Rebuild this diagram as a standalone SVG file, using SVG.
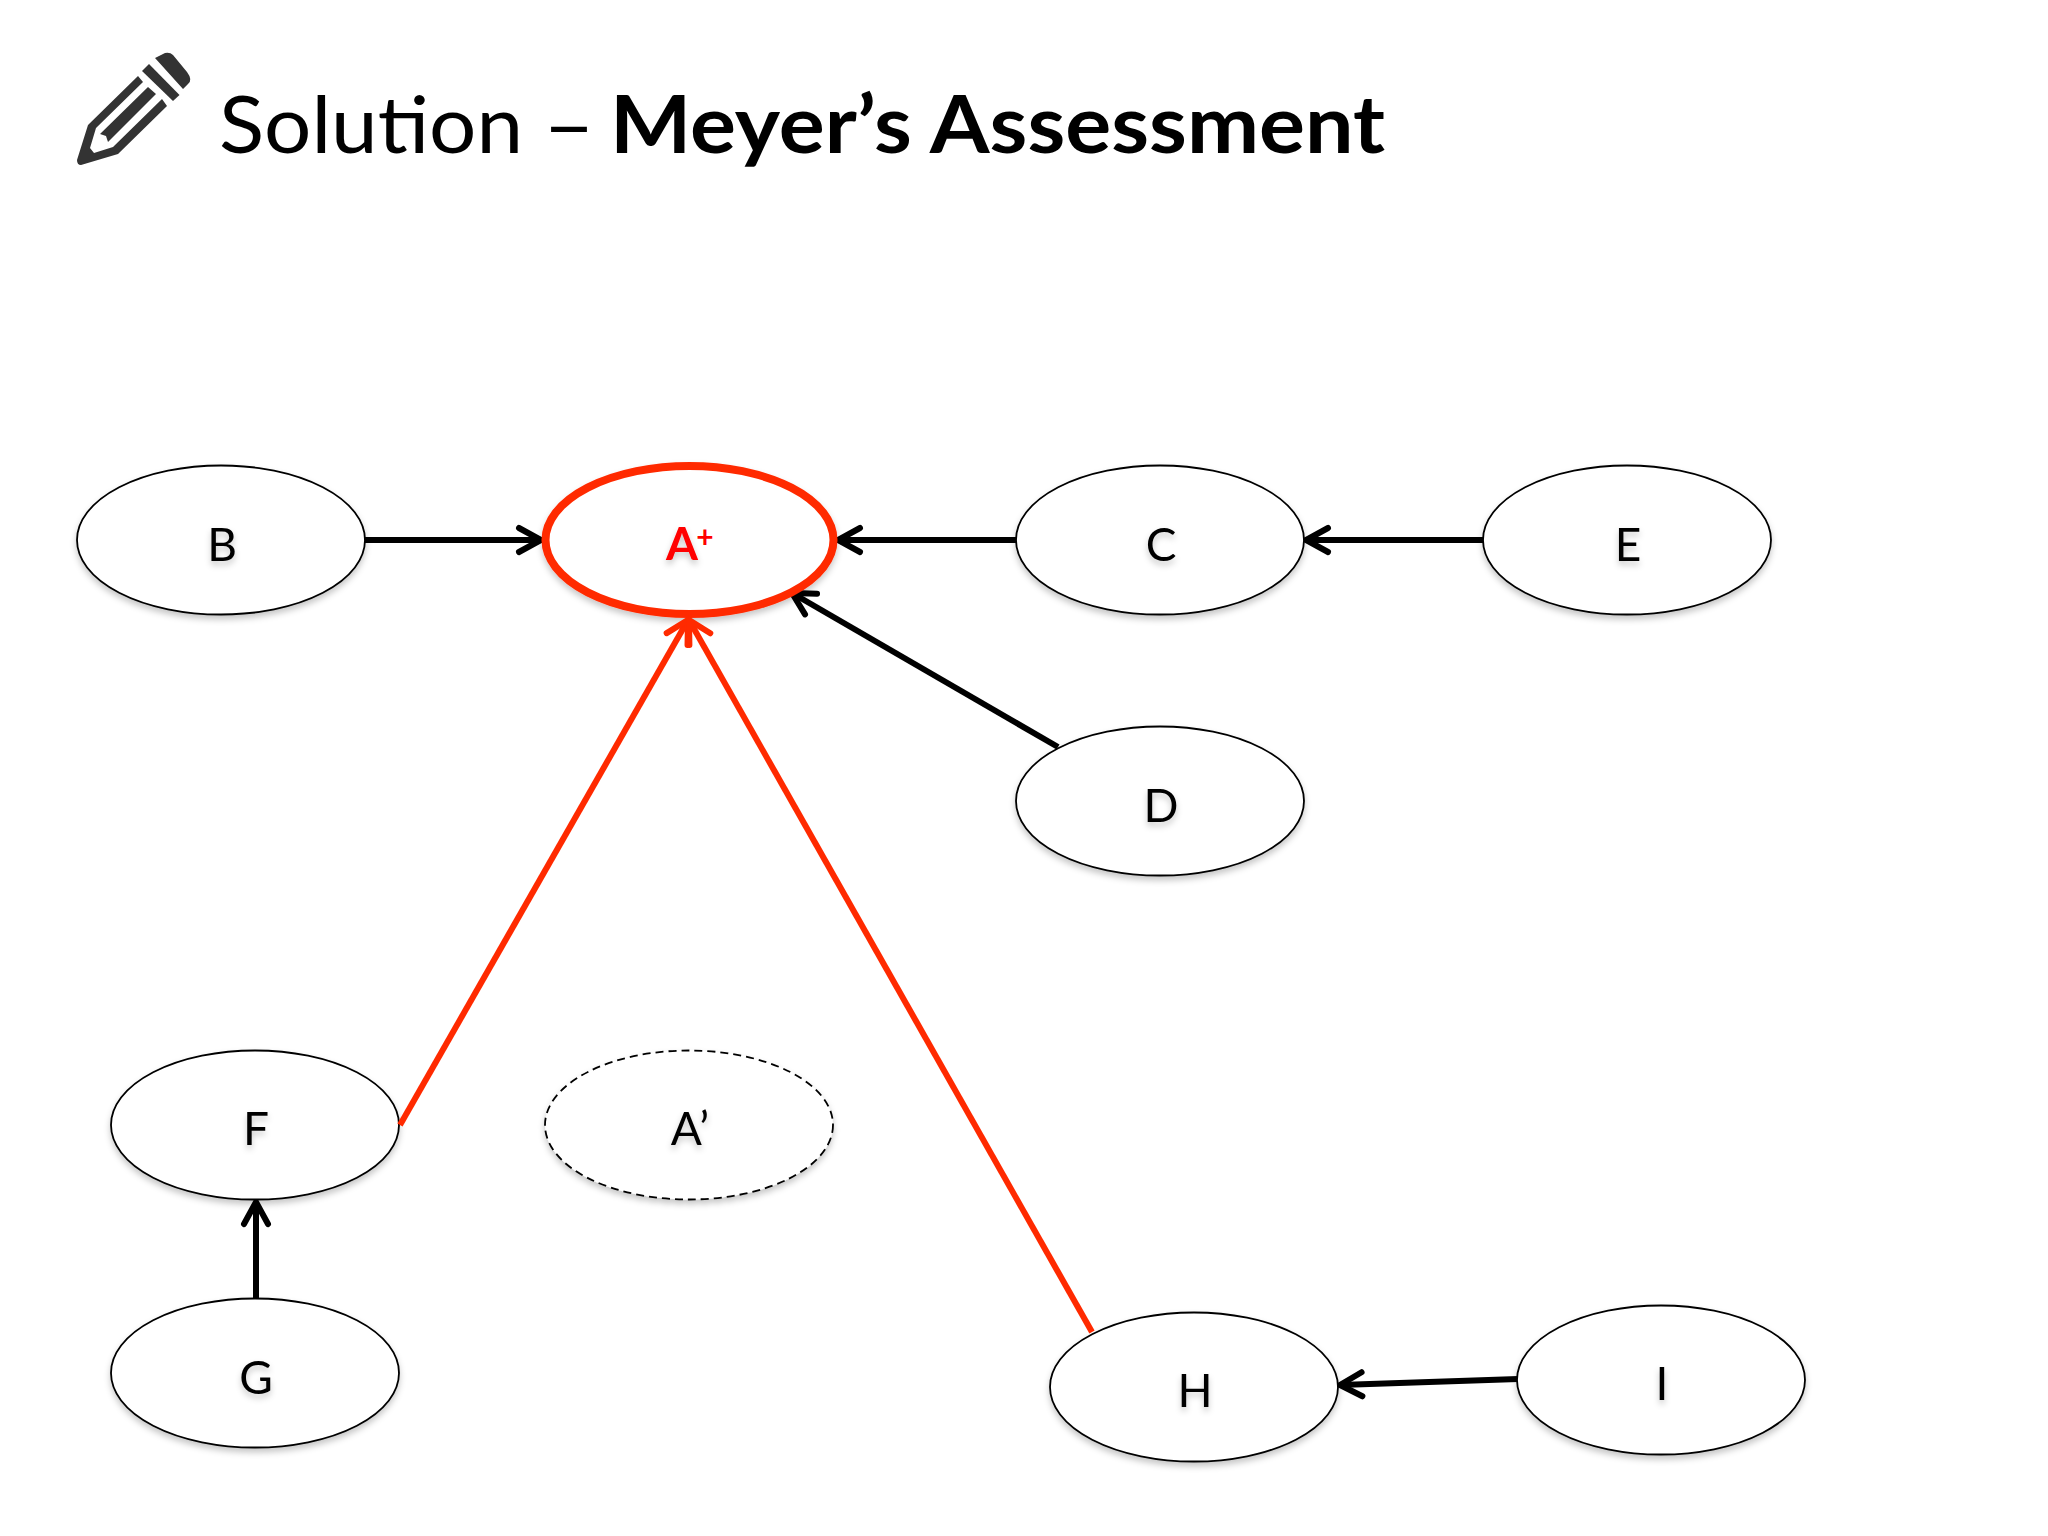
<svg xmlns="http://www.w3.org/2000/svg" width="2048" height="1536" viewBox="0 0 2048 1536">
<defs>
<filter id="sh" x="-20%" y="-20%" width="140%" height="150%"><feDropShadow dx="0" dy="4" stdDeviation="3" flood-color="#000" flood-opacity="0.22"/></filter>
<marker id="ab" markerUnits="userSpaceOnUse" markerWidth="40" markerHeight="40" viewBox="-30 -20 40 40" refX="0" refY="0" orient="auto"><path d="M-22,-12 L0,0 L-22,12" fill="none" stroke="#000" stroke-width="6" stroke-linecap="round"/></marker>
<marker id="ar" markerUnits="userSpaceOnUse" markerWidth="40" markerHeight="40" viewBox="-30 -20 40 40" refX="0" refY="0" orient="auto"><path d="M-22,-12 L0,0 L-22,12" fill="none" stroke="#ff2a00" stroke-width="6" stroke-linecap="round"/></marker>
</defs>
<style>
.n{fill:#fff;stroke:#000;stroke-width:1.8;filter:url(#sh)}
.t{font-family:"Lato","Liberation Sans",sans-serif;font-size:46px;text-anchor:middle;fill:#000;filter:url(#sh)}
.h{font-family:"Lato","Liberation Sans",sans-serif;font-size:80px;fill:#000}
.k{stroke:#000;stroke-width:6;fill:none;marker-end:url(#ab)}
.r{stroke:#ff2a00;stroke-width:6;fill:none;marker-end:url(#ar)}
</style>
<rect width="2048" height="1536" fill="#fff"/>
<g id="pencil" fill="#333">
<path d="M155,58 L165,53 Q170,52 173,55 L187,72 Q193,80 188,84 L183,89 Z"/>
<path d="M149,64 L179.5,95 L173,101 L142,71 Z"/>
<path d="M138,76 L143,82 L96,128 L90,148 L94,153 L113,147 L162,99 L167,106 L118,154 L81,165 Q77,165 77,160 L88,125 Z"/>
<path d="M148,87 L156,94 L108,142 L106,136 L100,134 Z"/>
</g>
<g id="title">
<text class="h" x="219" y="153" textLength="304" lengthAdjust="spacingAndGlyphs">Solution</text>
<text class="h" x="543" y="153" textLength="52" lengthAdjust="spacingAndGlyphs">–</text>
<text class="h" x="610" y="153" font-weight="700" textLength="775" lengthAdjust="spacingAndGlyphs">Meyer’s Assessment</text>
</g>
<g id="connectors">
<line class="k" x1="365" y1="540" x2="541" y2="540"/>
<line class="k" x1="1016" y1="540" x2="838" y2="540"/>
<line class="k" x1="1483" y1="540" x2="1306" y2="540"/>
<line class="k" x1="1058" y1="747" x2="792" y2="593"/>
<line class="k" x1="256" y1="1298" x2="256" y2="1202"/>
<line class="k" x1="1518" y1="1379" x2="1340" y2="1385"/>
</g>
<g id="node-B"><ellipse class="n" cx="221" cy="540" rx="144" ry="74.5"/><text class="t" x="222" y="561">B</text></g>
<g id="node-C"><ellipse class="n" cx="1160" cy="540" rx="144" ry="74.5"/><text class="t" x="1161" y="561">C</text></g>
<g id="node-E"><ellipse class="n" cx="1627" cy="540" rx="144" ry="74.5"/><text class="t" x="1628" y="561">E</text></g>
<g id="node-D"><ellipse class="n" cx="1160" cy="801" rx="144" ry="74.5"/><text class="t" x="1161" y="822">D</text></g>
<g id="node-F"><ellipse class="n" cx="255" cy="1125" rx="144" ry="74.5"/><text class="t" x="256" y="1145">F</text></g>
<g id="node-Aprime"><ellipse cx="689" cy="1125" rx="144" ry="74.5" fill="#fff" stroke="#000" stroke-width="1.8" stroke-dasharray="8 5" filter="url(#sh)"/><text class="t" x="690" y="1145">A’</text></g>
<g id="node-G"><ellipse class="n" cx="255" cy="1373" rx="144" ry="74.5"/><text class="t" x="256" y="1394">G</text></g>
<g id="node-H"><ellipse class="n" cx="1194" cy="1387" rx="144" ry="74.5"/><text class="t" x="1195" y="1407">H</text></g>
<g id="node-I"><ellipse class="n" cx="1661" cy="1380" rx="144" ry="74.5"/><text class="t" x="1662" y="1400">I</text></g>
<g id="node-A"><ellipse cx="689.5" cy="540" rx="144" ry="74" fill="#fff" stroke="#ff2a00" stroke-width="8" filter="url(#sh)"/><text x="682" y="560" font-family="Lato,'Liberation Sans',sans-serif" font-size="46" font-weight="700" fill="#f00" text-anchor="middle" filter="url(#sh)">A</text><text x="705" y="548" font-family="Lato,'Liberation Sans',sans-serif" font-size="30" font-weight="700" fill="#f00" text-anchor="middle">+</text></g>
<g id="connectors-red">
<line class="r" x1="400" y1="1125" x2="688" y2="620"/>
<line class="r" x1="1092" y1="1332" x2="689" y2="620"/>
</g>
</svg>
